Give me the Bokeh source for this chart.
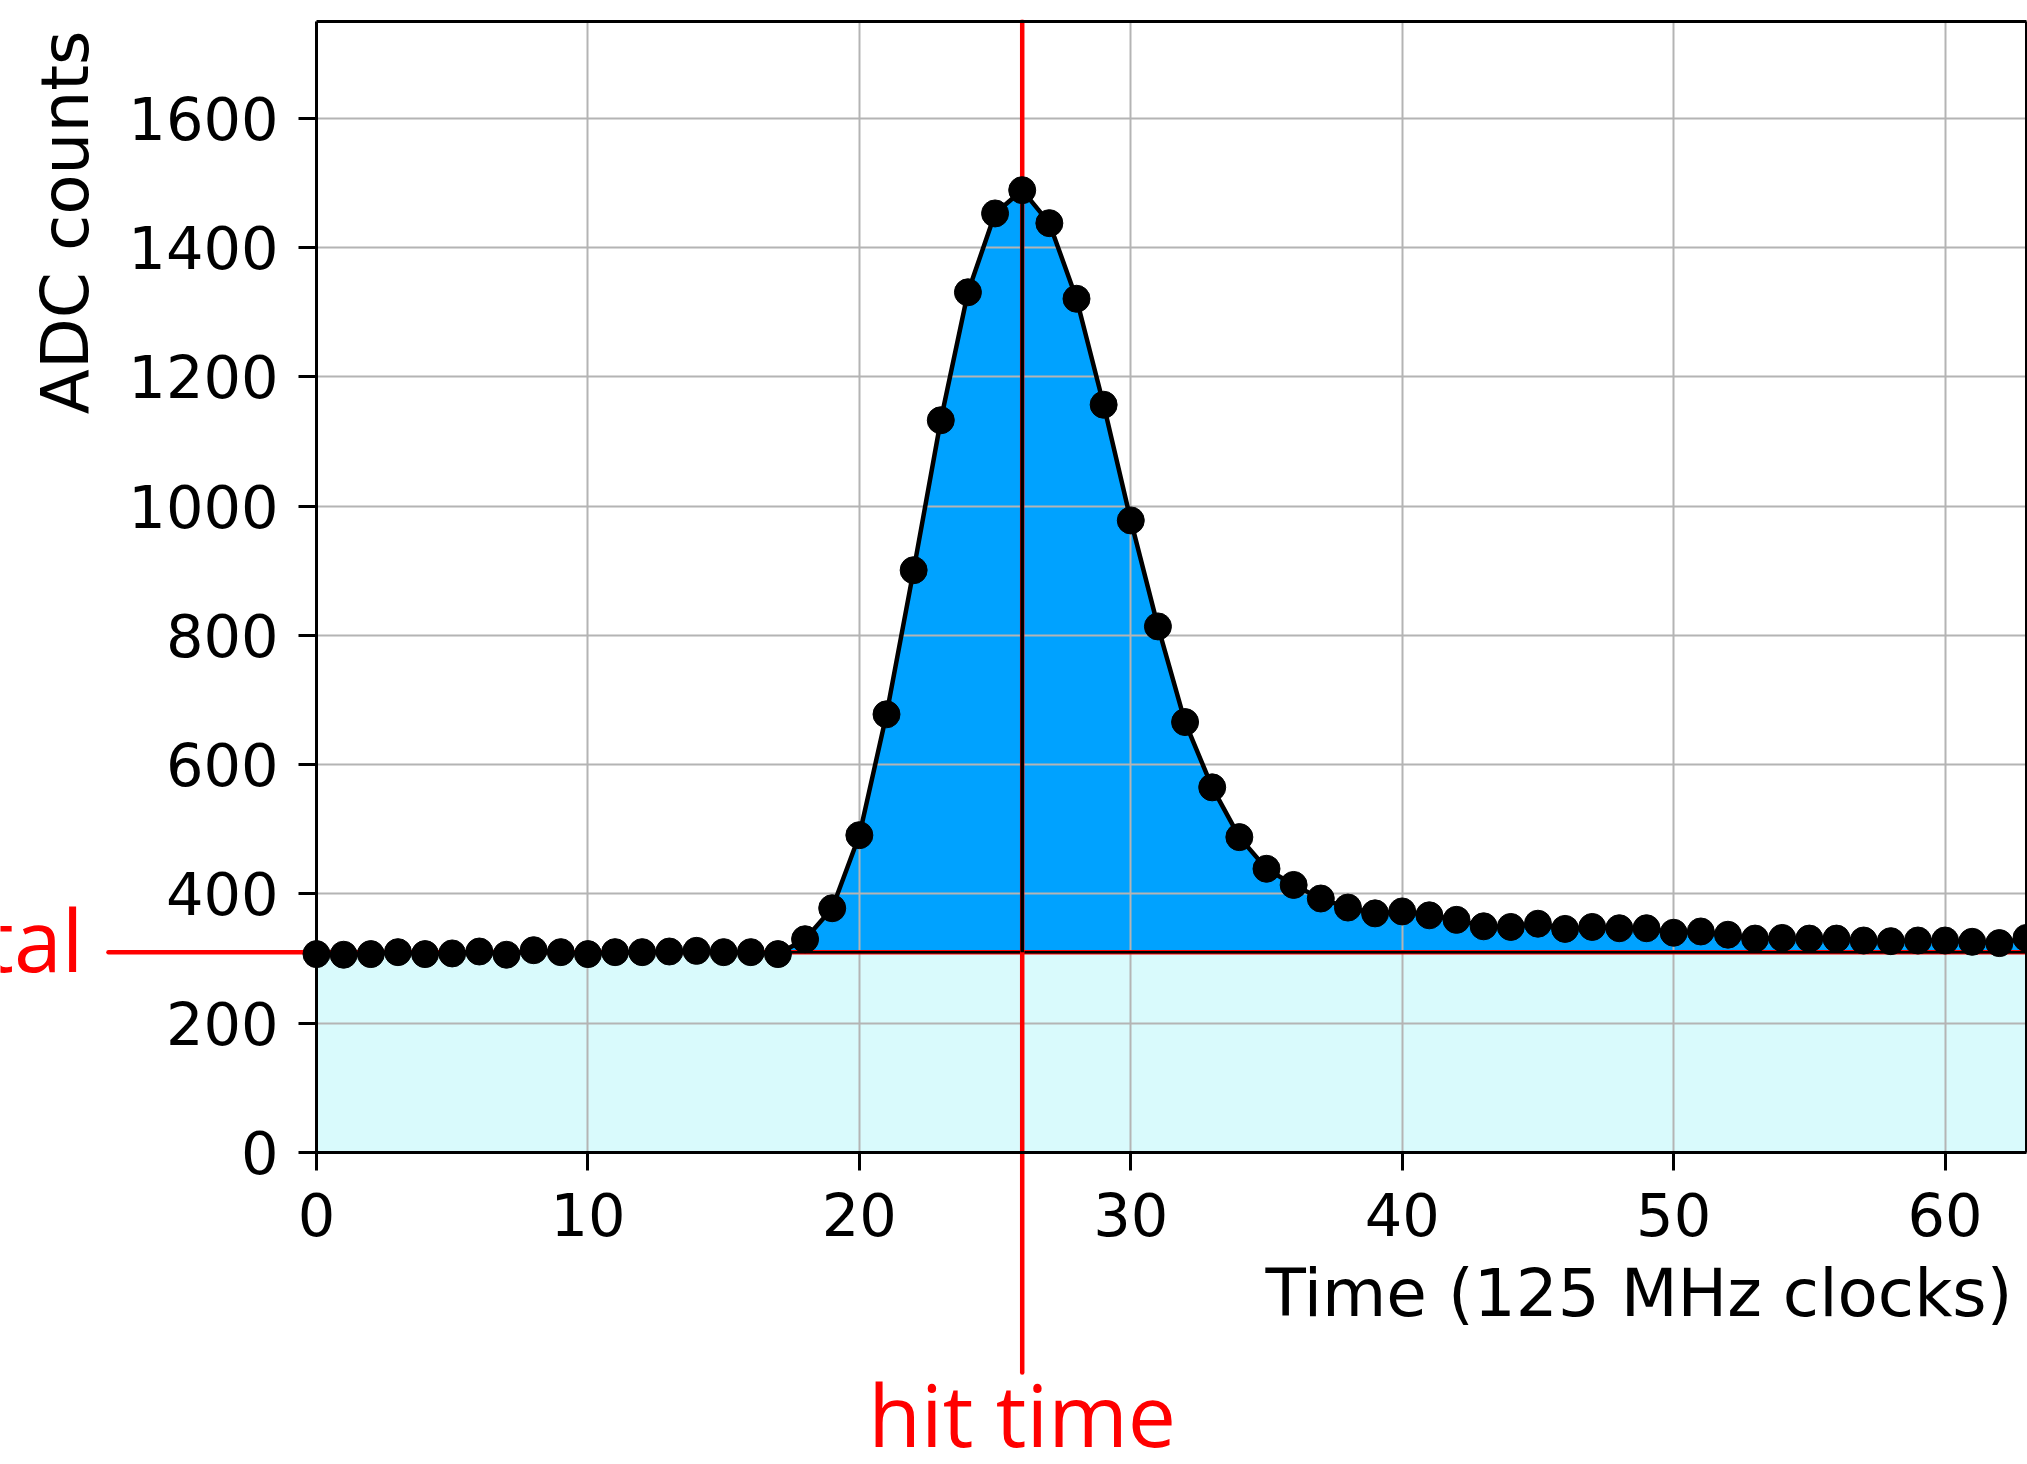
import numpy as np
from bokeh.plotting import figure
from bokeh.models import Range1d, FixedTicker, Label, LinearAxis, Grid
from bokeh.embed import file_html
from bokeh.resources import INLINE

# ---------------- data ----------------
time_clocks = list(range(64))
adc_counts = [307, 306, 307, 310, 307, 308, 311, 306, 313, 310,
              307, 310, 310, 311, 312, 310, 310, 307, 330, 378,
              491, 678, 901, 1133, 1331, 1453, 1489, 1438, 1321, 1157,
              978, 814, 666, 565, 488, 439, 414, 393, 379, 370,
              373, 367, 360, 350, 349, 354, 346, 349, 347, 347,
              340, 342, 337, 331, 332, 331, 331, 328, 327, 328,
              328, 326, 324, 332]
pedestal = 310
hit_time = 26
x_ticks = [0, 10, 20, 30, 40, 50, 60]
y_ticks = [0, 200, 400, 600, 800, 1000, 1200, 1400, 1600]
x_limits = (0, 63)
y_limits = (0, 1750)
x_title = "Time (125 MHz clocks)"
y_title = "ADC counts"

# ---------------- layout (canvas pixels) ----------------
W, H = 2027, 1464
BOX_LEFT, BOX_RIGHT = 316, 2026      # canvas px of x = 0 and x = 63
BOX_TOP, BOX_BOTTOM = 21, 1152       # canvas px of y = 1750 and y = 0
MIN_TOP = 19
x_scale = (BOX_RIGHT - BOX_LEFT) / (x_limits[1] - x_limits[0])
y_scale = (BOX_BOTTOM - BOX_TOP) / (y_limits[1] - y_limits[0])
x_view = (x_limits[0] - BOX_LEFT / x_scale, x_limits[1] + (W - BOX_RIGHT) / x_scale)
y_view = (y_limits[0] - (H - BOX_BOTTOM) / y_scale,
          y_limits[1] + (BOX_TOP - MIN_TOP) / y_scale)

def xpx(px):
    return x_limits[0] + (px - BOX_LEFT) / x_scale

def ypx(py):
    return y_limits[0] + (BOX_BOTTOM - py) / y_scale

BASE_SHIFT = 0.42   # label anchor sits this many em above the drawn baseline
RED_FONT, RED_SIZE = "Open Sans", 86
AX_FONT, TICK_SIZE, TITLE_SIZE = "DejaVu Sans", 59, 66

hit_line_bottom = ypx(1372)
ped_line_left = xpx(108)

t = np.array(time_clocks, dtype=float)
a = np.array(adc_counts, dtype=float)

# pulse region: from the last crossing of the pedestal to the end
idx = max(i for i in range(len(a)) if a[i] <= pedestal) + 1
xc = t[idx - 1] + (pedestal - a[idx - 1]) / (a[idx] - a[idx - 1])
pulse_x = [xc] + list(t[idx:]) + [t[-1]]
pulse_y = [pedestal] + list(a[idx:]) + [pedestal]

p = figure(width=W, height=H, output_backend="svg", toolbar_location=None,
           x_range=Range1d(*x_view), y_range=Range1d(*y_view),
           min_border=0, min_border_top=MIN_TOP, min_border_right=0,
           min_border_left=0, min_border_bottom=0)
p.outline_line_color = None

# fills (below the grid)
p.varea(x=list(x_limits), y1=[y_limits[0]] * 2, y2=[pedestal] * 2,
        fill_color="#D9FAFC", level="image")
p.patch(pulse_x, pulse_y, fill_color="#00A2FF", line_color=None, level="image")

# grid
grid_ok = "cross_bounds" in Grid.properties()
for g in (p.xgrid, p.ygrid):
    g.grid_line_color = "#B4B4B4"
    g.grid_line_width = 2
p.xgrid.ticker = FixedTicker(ticks=x_ticks)
p.ygrid.ticker = FixedTicker(ticks=y_ticks)
if grid_ok:
    p.xgrid.bounds = x_limits
    p.xgrid.cross_bounds = y_limits
    p.ygrid.bounds = y_limits
    p.ygrid.cross_bounds = x_limits
else:
    p.xgrid.visible = False
    p.ygrid.visible = False
    p.segment(x0=x_ticks, y0=[y_limits[0]] * len(x_ticks), x1=x_ticks,
              y1=[y_limits[1]] * len(x_ticks), line_color="#B4B4B4",
              line_width=2, level="underlay")
    p.segment(x0=[x_limits[0]] * len(y_ticks), y0=y_ticks,
              x1=[x_limits[1]] * len(y_ticks), y1=y_ticks,
              line_color="#B4B4B4", line_width=2, level="underlay")

# pedestal line (extends left of the axis)
p.segment(x0=[ped_line_left], y0=[pedestal], x1=[x_limits[1]], y1=[pedestal],
          line_color="red", line_width=4.5, line_cap="round")
# bottom edge of the pulse area
p.line([xc, t[-1]], [pedestal, pedestal], line_color="black", line_width=2.5)

# hit time line (red, extends below the axis) and black line pedestal->peak
p.segment(x0=[hit_time], y0=[hit_line_bottom], x1=[hit_time], y1=[y_limits[1]],
          line_color="red", line_width=4.5, line_cap="round")
p.segment(x0=[hit_time], y0=[pedestal], x1=[hit_time], y1=[adc_counts[hit_time]],
          line_color="black", line_width=3.5)

# waveform
p.line(time_clocks, adc_counts, line_color="black", line_width=4.5)
p.scatter(time_clocks, adc_counts, size=27, fill_color="black", line_color="black")

# red annotation texts
p.add_layout(Label(x=hit_time, y=ypx(1449 - BASE_SHIFT * RED_SIZE), text="hit time",
                   text_align="center", text_baseline="alphabetic", text_color="red",
                   text_font=RED_FONT, text_font_size=f"{RED_SIZE}px"))
p.add_layout(Label(x=xpx(83), y=ypx(974 - BASE_SHIFT * RED_SIZE), text="pedestal",
                   text_align="right", text_baseline="alphabetic", text_color="red",
                   text_font=RED_FONT, text_font_size=f"{RED_SIZE}px"))

# axis titles
p.add_layout(Label(x=xpx(2012), y=ypx(1321 - BASE_SHIFT * TITLE_SIZE), text=x_title,
                   text_align="right", text_baseline="alphabetic", text_color="black",
                   text_font=AX_FONT, text_font_size=f"{TITLE_SIZE}px"))
p.add_layout(Label(x=xpx(93 - BASE_SHIFT * TITLE_SIZE), y=ypx(30), text=y_title,
                   angle=np.pi / 2, text_align="right", text_baseline="alphabetic",
                   text_color="black", text_font=AX_FONT,
                   text_font_size=f"{TITLE_SIZE}px"))

# axes, fixed at the data box
p.xaxis.fixed_location = y_limits[0]
p.xaxis.bounds = x_limits
p.yaxis.fixed_location = x_limits[0]
p.yaxis.bounds = y_limits
p.xaxis.ticker = FixedTicker(ticks=x_ticks)
p.yaxis.ticker = FixedTicker(ticks=y_ticks)
for ax in (p.xaxis, p.yaxis):
    ax.axis_line_color = "black"
    ax.axis_line_width = 3
    ax.major_tick_line_color = "black"
    ax.major_tick_line_width = 3
    ax.major_tick_out = 18
    ax.major_tick_in = 0
    ax.minor_tick_out = 0
    ax.minor_tick_in = 0
    ax.major_label_text_font = AX_FONT
    ax.major_label_text_font_size = f"{TICK_SIZE}px"
    ax.major_label_text_color = "black"
p.xaxis.major_label_standoff = 22
p.yaxis.major_label_standoff = 20

# top and right edges of the box
top_edge = LinearAxis(ticker=FixedTicker(ticks=[]), fixed_location=y_limits[1],
                      bounds=x_limits, axis_line_width=3, axis_line_color="black",
                      major_label_text_font_size="0px")
right_edge = LinearAxis(ticker=FixedTicker(ticks=[]), fixed_location=x_limits[1],
                        bounds=y_limits, axis_line_width=3, axis_line_color="black",
                        major_label_text_font_size="0px")
p.add_layout(top_edge, "above")
p.add_layout(right_edge, "right")

open("out.html", "w").write(file_html(p, INLINE))
